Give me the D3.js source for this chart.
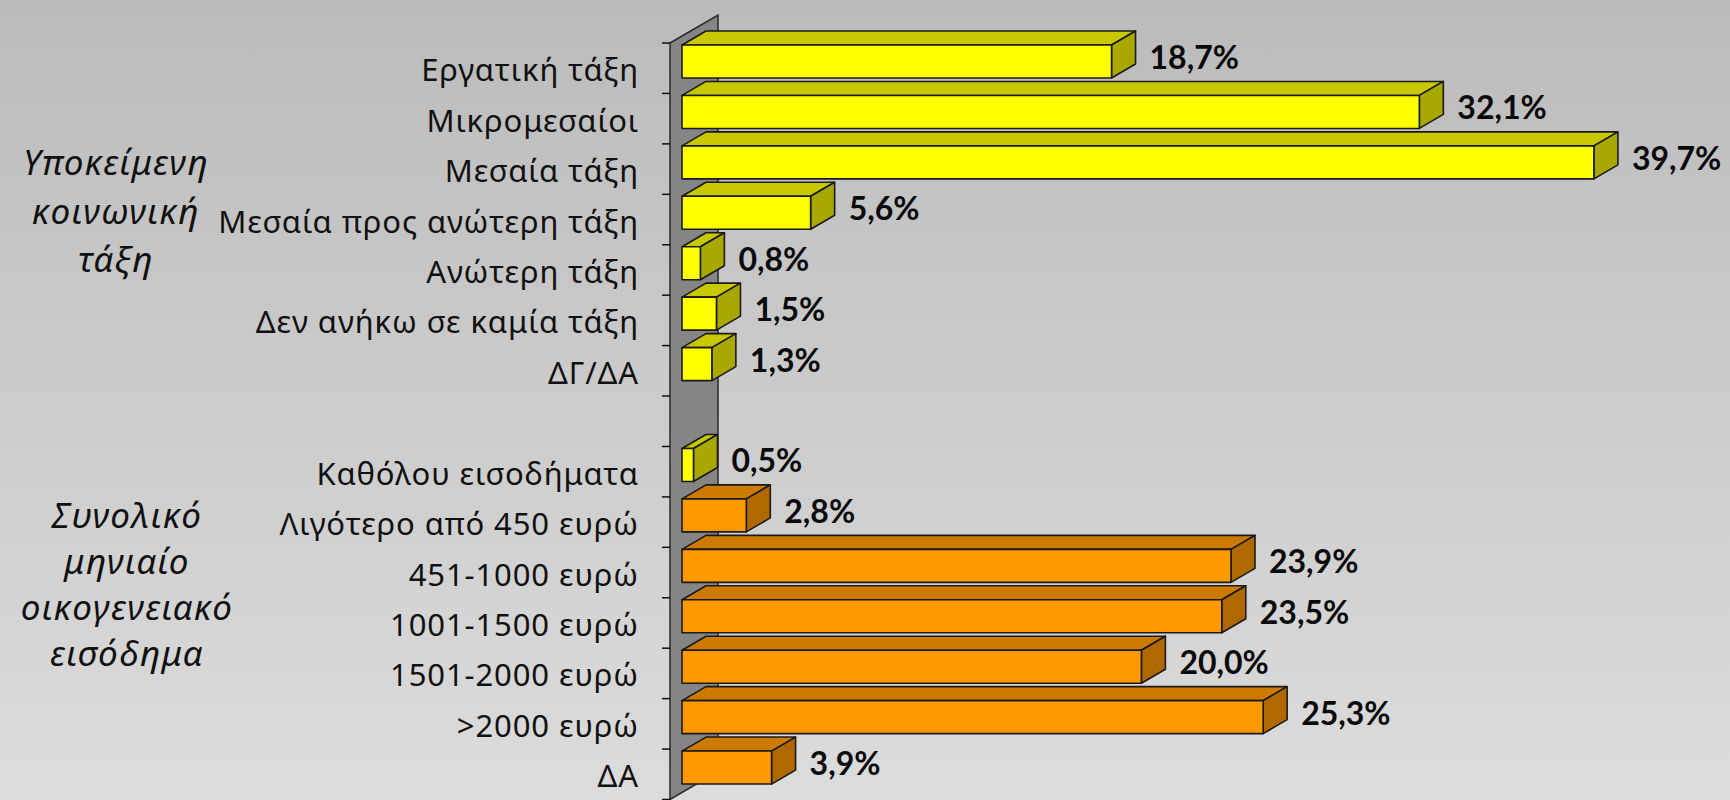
<!DOCTYPE html>
<html>
<head>
<meta charset="utf-8">
<script src="https://cdn.jsdelivr.net/npm/d3@7"></script>
<style>
  html, body { margin: 0; padding: 0; background: #c8c8c8; }
  svg { display: block; }
</style>
</head>
<body>
<svg id="chart" width="1730" height="800"></svg>
<script>
// ---- data ----
const classCategories = [
  "Εργατική τάξη",
  "Μικρομεσαίοι",
  "Μεσαία τάξη",
  "Μεσαία προς ανώτερη τάξη",
  "Ανώτερη τάξη",
  "Δεν ανήκω σε καμία τάξη",
  "ΔΓ/ΔΑ"
];
const classValues = [18.7, 32.1, 39.7, 5.6, 0.8, 1.5, 1.3];

const incomeCategories = [
  "Καθόλου εισοδήματα",
  "Λιγότερο από 450 ευρώ",
  "451-1000 ευρώ",
  "1001-1500 ευρώ",
  "1501-2000 ευρώ",
  ">2000 ευρώ",
  "ΔΑ"
];
const incomeValues = [0.5, 2.8, 23.9, 23.5, 20.0, 25.3, 3.9];

const classTitle = ["Υποκείμενη", "κοινωνική", "τάξη"];
const incomeTitle = ["Συνολικό", "μηνιαίο", "οικογενειακό", "εισόδημα"];

// ---- layout / style ----
const W = 1730, H = 800;
const spacer = "\u00a0";                         // empty row between the two groups
const categories = [...classCategories, spacer, ...incomeCategories];
const rows = [
  ...classCategories.map((c, i) => ({ cat: c, value: classValues[i], group: "class" })),
  ...incomeCategories.map((c, i) => ({ cat: c, value: incomeValues[i], group: "income", idx: i }))
];

const depthX = 24, depthY = -14;                 // 3D offset of a bar
const wallLeft = 670, wallDepthX = 48, wallDepthY = -28;

const y = d3.scaleBand().domain(categories).range([43, 799.5]).paddingInner(0).paddingOuter(0);
const x = d3.scaleLinear().domain([0, 40]).range([682, 682 + 40 * 22.97]);

const palettes = {
  yellow: { front: "#ffff00", top: "#c8c800", side: "#a8a800" },
  orange: { front: "#ff9900", top: "#cc7a00", side: "#b06800" }
};
// income bands with some earnings are orange; everything else yellow
const paletteFor = d => (d.group === "income" && d.idx > 0) ? palettes.orange : palettes.yellow;

const fmt = v => d3.format(".1f")(v).replace(".", ",") + "%";

const svg = d3.select("#chart");

// background gradient
const defs = svg.append("defs");
const grad = defs.append("linearGradient").attr("id", "bg").attr("x1", 0).attr("y1", 0).attr("x2", 0).attr("y2", 1);
grad.append("stop").attr("offset", "0%").attr("stop-color", "#bbbbbb");
grad.append("stop").attr("offset", "100%").attr("stop-color", "#dcdcdc");
svg.append("rect").attr("width", W).attr("height", H).attr("fill", "url(#bg)");

// side wall
const [yTop, yBot] = y.range();
svg.append("polygon")
  .attr("points", [
    [wallLeft, yTop], [wallLeft + wallDepthX, yTop + wallDepthY],
    [wallLeft + wallDepthX, yBot + wallDepthY], [wallLeft, yBot]
  ].map(p => p.join(",")).join(" "))
  .attr("fill", "#858585")
  .attr("stroke", "#2a2a2a")
  .attr("stroke-width", 1.5);

// tick marks at row boundaries
const boundaries = categories.map(c => y(c)).concat([yBot]);
svg.append("g").selectAll("line").data(boundaries).join("line")
  .attr("x1", wallLeft - 8).attr("x2", wallLeft)
  .attr("y1", d => d).attr("y2", d => d)
  .attr("stroke", "#111").attr("stroke-width", 1.5);

// category labels
svg.append("g").selectAll("text").data(categories.filter(c => c !== spacer)).join("text")
  .attr("x", 639)
  .attr("y", c => y(c) + y.bandwidth() / 2 + 13)
  .attr("text-anchor", "end")
  .attr("font-family", "'Noto Sans', 'Open Sans', sans-serif")
  .attr("font-size", 31)
  .attr("letter-spacing", 0.9)
  .attr("fill", "#111")
  .text(c => c);

// group titles
function drawTitle(lines, cx, y0, lh) {
  svg.append("g").selectAll("text").data(lines).join("text")
    .attr("x", cx)
    .attr("y", (d, i) => y0 + i * lh)
    .attr("text-anchor", "middle")
    .attr("font-family", "'Noto Sans', 'Open Sans', sans-serif")
    .attr("font-style", "italic")
    .attr("font-size", 35)
    .attr("letter-spacing", 1.4)
    .attr("fill", "#111")
    .text(d => d);
}
drawTitle(classTitle, 116, 175, 48.5);
drawTitle(incomeTitle, 127, 528, 46);

// bars
const frontTop = 2, frontH = 33;
const bars = svg.append("g").selectAll("g").data(rows).join("g");
const pts = a => a.map(p => p.join(",")).join(" ");

bars.each(function (d) {
  const g = d3.select(this);
  const pal = paletteFor(d);
  const x0 = x(0), x1 = x(d.value);
  const y0 = y(d.cat) + frontTop, y1 = y0 + frontH;
  g.append("polygon")
    .attr("points", pts([[x0, y0], [x1, y0], [x1 + depthX, y0 + depthY], [x0 + depthX, y0 + depthY]]))
    .attr("fill", pal.top);
  g.append("polygon")
    .attr("points", pts([[x1, y0], [x1 + depthX, y0 + depthY], [x1 + depthX, y1 + depthY], [x1, y1]]))
    .attr("fill", pal.side);
  g.append("rect")
    .attr("x", x0).attr("y", y0).attr("width", x1 - x0).attr("height", frontH)
    .attr("fill", pal.front);
  g.selectAll("polygon, rect")
    .attr("stroke", "#1a1a1a").attr("stroke-width", 1.6).attr("stroke-linejoin", "round");
});

// value labels
svg.append("g").selectAll("text").data(rows).join("text")
  .attr("x", d => x(d.value) + depthX + 14)
  .attr("y", d => y(d.cat) + 26)
  .attr("font-family", "Lato, 'Liberation Sans', sans-serif")
  .attr("font-weight", "bold")
  .attr("font-size", 32)
  .attr("fill", "#0a0a0a")
  .text(d => fmt(d.value));
</script>
</body>
</html>
